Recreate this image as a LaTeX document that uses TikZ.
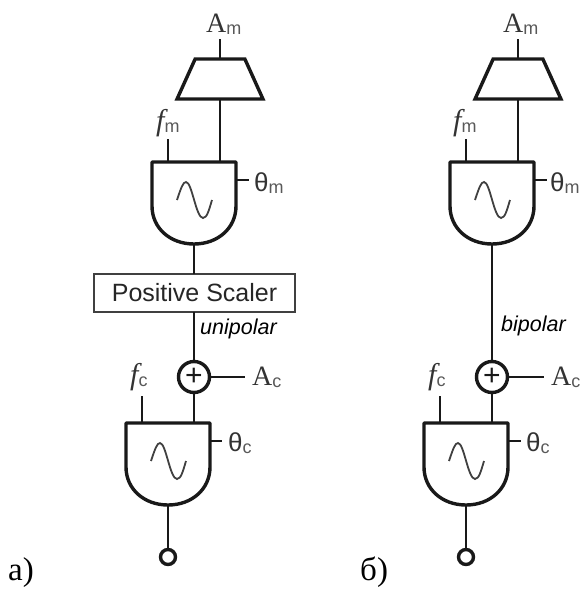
\documentclass[tikz,border=0pt]{standalone}
\usepackage{fontspec}
\setmainfont{Liberation Serif}
\newfontfamily\labelsans{Liberation Sans}
\usetikzlibrary{shapes.geometric}

% subscript of a signal name
\newcommand{\subtext}[1]{\raisebox{-2pt}{\color{black!65}\labelsans\fontsize{18}{18}\selectfont #1}}

\tikzset{
	wire/.style={line width=1.8pt,black!90},
	heavy/.style={line width=3.4pt,black!90},
	labelnode/.style={anchor=base west,inner sep=0pt,text=black!80},
	amp/.style={labelnode,font=\fontsize{28}{28}\selectfont},
	freq/.style={labelnode,font=\fontsize{30}{30}\selectfont\itshape},
	phase/.style={labelnode,font=\labelsans\fontsize{26}{26}\selectfont},
	note/.style={labelnode,text=black,font=\labelsans\itshape\fontsize{21.5}{21.5}\selectfont},
	panel/.style={labelnode,text=black,font=\fontsize{33}{33}\selectfont},
	trap/.style={heavy,draw,trapezium,trapezium stretches=true,trapezium left angle=70,trapezium right angle=70,inner sep=0pt,outer sep=0pt,text width=10pt,text height=10pt,minimum width=86pt,minimum height=40pt},
	scaler/.style={draw,line width=2pt,black!75,text=black!85,inner sep=0pt,outer sep=0pt,minimum width=201pt,minimum height=38pt,font=\labelsans\fontsize{25}{25}\selectfont},
	sumnode/.style={heavy,draw,circle,inner sep=0pt,outer sep=0pt,minimum size=31pt,font=\labelsans\fontsize{30}{30}\selectfont},
	outnode/.style={heavy,draw,circle,inner sep=0pt,outer sep=0pt,minimum size=15pt},
	pics/oscblock/.style={code={
		\draw[heavy,line join=round] (-42,0) -- (42,0) -- (42,44) .. controls (42,66) and (24,82) .. (0,82) .. controls (-24,82) and (-42,66) .. (-42,44) -- cycle;
		\draw[line width=1.8pt,black!75] (-17,38) .. controls (-13,26) and (-11,20) .. (-8,20) .. controls (-2,20) and (2,56) .. (9,56) .. controls (13,56) and (15,48) .. (18,38);
		\coordinate (-bus) at (26,0);
		\coordinate (-rate) at (-26,0);
		\coordinate (-side) at (42,18);
		\coordinate (-out) at (0,82);
	}}
}

\begin{document}
\begin{tikzpicture}[x=1pt,y=-1pt]
	\useasboundingbox (0,0) rectangle (579,589);
	
	% left column, unipolar
	\node[trap] (trapA) at (220,79) {};
	\pic (oscmA) at (194,162) {oscblock};
	\node[scaler] (scalerA) at (194.5,293) {Positive Scaler};
	\node[sumnode] (sumA) at (194,377) {+};
	\pic (osccA) at (168,423) {oscblock};
	\node[outnode] (outA) at (168,557) {};
	
	% labels of the left column
	\node[amp] (amA) at (206,32) {A\subtext{m}};
	\node[freq] (fmA) at (156,130) {f\subtext{\upshape m}};
	\node[phase] (thmA) at (254,191) {θ\subtext{m}};
	\node[note] (noteA) at (200,334) {unipolar};
	\node[freq] (fcA) at (130,384) {f\subtext{\upshape c}};
	\node[amp] (acA) at (252,385) {A\subtext{c}};
	\node[phase] (thcA) at (228,451) {θ\subtext{c}};
	\node[panel] (panelA) at (8,580) {a)};
	
	% free ends of the left column
	\coordinate (tipamA) at (220,39);
	\coordinate (tipfmA) at (168,139);
	\coordinate (tipthmA) at (249,180);
	\coordinate (tipacA) at (245,377);
	\coordinate (tipfcA) at (142,396);
	\coordinate (tipthcA) at (222,441);
	
	% wires of the left column
	\draw[wire] (tipamA) -- (trapA.north);
	\draw[wire] (trapA.south) -- (oscmA-bus);
	\draw[wire] (tipfmA) -- (oscmA-rate);
	\draw[wire] (oscmA-side) -- (tipthmA);
	\draw[wire] (oscmA-out) -- (scalerA.north -| oscmA-out);
	\draw[wire] (scalerA.south -| sumA) -- (sumA.north);
	\draw[wire] (sumA.east) -- (tipacA);
	\draw[wire] (sumA.south) -- (osccA-bus);
	\draw[wire] (tipfcA) -- (osccA-rate);
	\draw[wire] (osccA-side) -- (tipthcA);
	\draw[wire] (osccA-out) -- (outA.north);
	
	% right column, bipolar
	\node[trap] (trapB) at (518,79) {};
	\pic (oscmB) at (492,162) {oscblock};
	\node[sumnode] (sumB) at (492,377) {+};
	\pic (osccB) at (466,423) {oscblock};
	\node[outnode] (outB) at (466,557) {};
	
	% labels of the right column
	\node[amp] (amB) at (503,32) {A\subtext{m}};
	\node[freq] (fmB) at (453,130) {f\subtext{\upshape m}};
	\node[phase] (thmB) at (550,191) {θ\subtext{m}};
	\node[note] (noteB) at (501,331) {bipolar};
	\node[freq] (fcB) at (428,384) {f\subtext{\upshape c}};
	\node[amp] (acB) at (551,385) {A\subtext{c}};
	\node[phase] (thcB) at (526,451) {θ\subtext{c}};
	\node[panel] (panelB) at (360,580) {б)};
	
	% free ends of the right column
	\coordinate (tipamB) at (518,39);
	\coordinate (tipfmB) at (466,139);
	\coordinate (tipthmB) at (547,180);
	\coordinate (tipacB) at (544,377);
	\coordinate (tipfcB) at (440,396);
	\coordinate (tipthcB) at (521,441);
	
	% wires of the right column
	\draw[wire] (tipamB) -- (trapB.north);
	\draw[wire] (trapB.south) -- (oscmB-bus);
	\draw[wire] (tipfmB) -- (oscmB-rate);
	\draw[wire] (oscmB-side) -- (tipthmB);
	\draw[wire] (oscmB-out) -- (sumB.north);
	\draw[wire] (sumB.east) -- (tipacB);
	\draw[wire] (sumB.south) -- (osccB-bus);
	\draw[wire] (tipfcB) -- (osccB-rate);
	\draw[wire] (osccB-side) -- (tipthcB);
	\draw[wire] (osccB-out) -- (outB.north);
	
\end{tikzpicture}
\end{document}
